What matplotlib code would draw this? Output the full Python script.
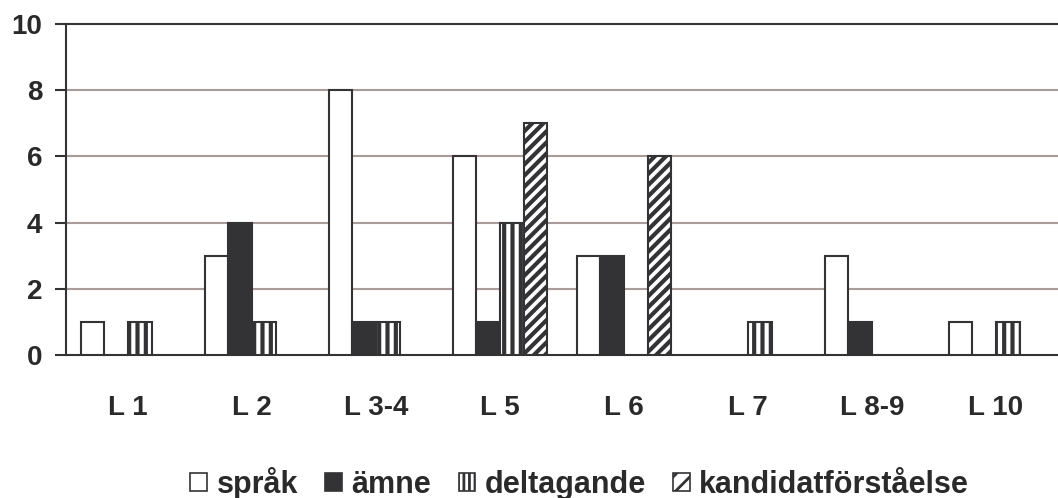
import matplotlib.pyplot as plt
import numpy as np
from matplotlib.patches import Patch

plt.rcParams["font.family"] = ["Liberation Sans", "DejaVu Sans"]
plt.rcParams["font.weight"] = "bold"
plt.rcParams["hatch.linewidth"] = 3.0

categories = ["L 1", "L 2", "L 3-4", "L 5", "L 6", "L 7", "L 8-9", "L 10"]
series_names = ["språk", "ämne", "deltagande", "kandidatförståelse"]
sprak = [1, 3, 8, 6, 3, 0, 3, 1]
amne = [0, 4, 1, 1, 3, 0, 1, 0]
deltagande = [1, 1, 1, 4, 0, 1, 0, 1]
kandidat = [0, 0, 0, 7, 6, 0, 0, 0]
y_ticks = [0, 2, 4, 6, 8, 10]

DARK = "#333336"
GRID = "#a89c9a"

styles = [
    dict(facecolor="white", hatch=None),
    dict(facecolor=DARK, hatch=None),
    dict(facecolor="white", hatch="||"),
    dict(facecolor="white", hatch="///"),
]
legend_hatches = [None, None, "|||", "//"]

fig = plt.figure(figsize=(10.58, 4.98), dpi=100)
ax = fig.add_axes([0.0624, 0.2871, 0.9376, 0.6647])

x = np.arange(len(categories))
width = 0.19
for i, (vals, st) in enumerate(zip([sprak, amne, deltagande, kandidat], styles)):
    pos = x + (i - 1.5) * width
    for p, v in zip(pos, vals):
        if v == 0:
            continue
        ax.bar(p, v, width, facecolor=st["facecolor"], edgecolor=DARK,
               hatch=st["hatch"], linewidth=1.5, zorder=3)

ax.set_xlim(-0.5, len(categories) - 0.5)
ax.set_ylim(0, 10)
ax.set_yticks(y_ticks)
ax.set_xticks(x)
ax.set_xticklabels(categories, fontsize=20, fontweight="bold", color="#2a2a2a")
ax.tick_params(axis="x", length=0, pad=29)
ax.tick_params(axis="y", length=8, width=1.5, color=DARK, pad=9,
               labelsize=20, labelcolor="#2a2a2a")

for t in y_ticks[1:-1]:
    ax.axhline(t, color=GRID, linewidth=1.5, zorder=1)

ax.spines["right"].set_visible(False)
for s in ["left", "bottom", "top"]:
    ax.spines[s].set_color(DARK)
    ax.spines[s].set_linewidth(1.5)

# small square legend keys
plt.rcParams["hatch.linewidth"] = 2.0
handles = [Patch(facecolor=st["facecolor"], edgecolor=DARK, hatch=h, linewidth=1.2)
           for st, h in zip(styles, legend_hatches)]
fig.legend(handles, series_names, loc="center", bbox_to_anchor=(0.548, 0.03),
           ncol=4, frameon=False, handlelength=0.55, handleheight=0.55,
           handletextpad=0.3, columnspacing=0.9,
           prop=dict(weight="bold", size=22), labelcolor="#2a2a2a")

fig.savefig("out.png", dpi=100)
